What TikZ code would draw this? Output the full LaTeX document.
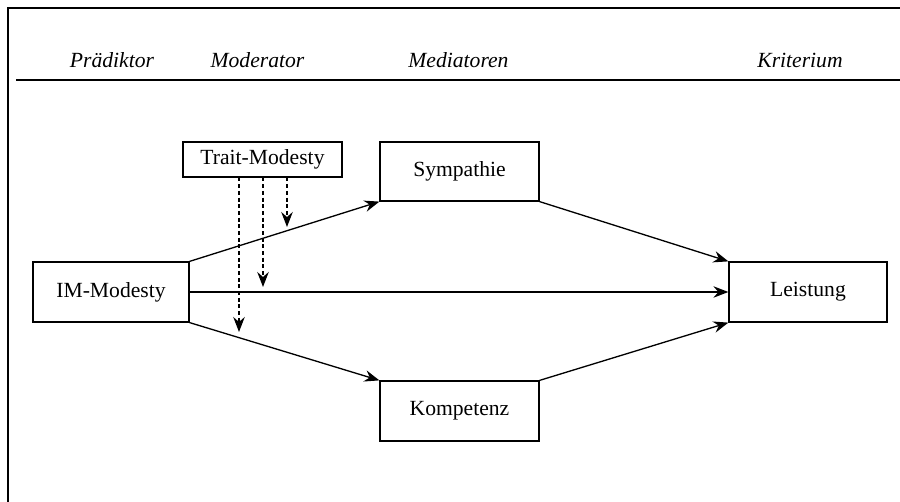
\documentclass[tikz,border=0pt]{standalone}
\usepackage{fontspec}
\setmainfont{Liberation Serif}
\usetikzlibrary{arrows.meta}
\tikzset{
  varbox/.style={draw,line width=0.7pt,minimum width=3.16cm,minimum height=1.2cm,inner sep=0pt,font=\fontsize{12.3}{14}\selectfont},
  pfeil/.style={line width=0.75pt,-{Stealth[length=3mm,width=2.3mm,inset=1mm]}},
  modpfeil/.style={pfeil,dashed,dash pattern=on 2.2pt off 1.6pt},
  kopf/.style={font=\fontsize{12.3}{14}\selectfont\itshape}
}

\begin{document}
\begin{tikzpicture}[x=1cm,y=1cm]
\path[use as bounding box] (0,0) rectangle (18.00,10.04);
% Rahmen und Kopfzeile
\draw[line width=0.9pt] (0.16,0) -- (0.16,9.88) -- (18.00,9.88);
\draw[line width=0.9pt] (0.32,8.44) -- (18.00,8.44);
\node[kopf] (hpraed) at (2.24,8.84) {Prädiktor};
\node[kopf] (hmod) at (5.15,8.84) {Moderator};
\node[kopf] (hmed) at (9.17,8.84) {Mediatoren};
\node[kopf] (hkrit) at (16.00,8.84) {Kriterium};
% Variablen
\node[varbox,minimum width=3.18cm,minimum height=0.7cm] (trait) at (5.25,6.85) {Trait-Modesty};
\node[varbox,minimum width=3.18cm,minimum height=1.18cm] (symp) at (9.19,6.61) {Sympathie};
\node[varbox,minimum width=3.12cm] (immod) at (2.22,4.20) {IM-Modesty};
\node[varbox] (leist) at (16.16,4.20) {Leistung};
\node[varbox,minimum width=3.18cm] (komp) at (9.19,1.82) {Kompetenz};
% Pfade
\draw[pfeil] (immod.north east) -- (symp.south west);
\draw[pfeil] (immod.east) -- (leist.west);
\draw[pfeil] (immod.south east) -- (komp.north west);
\draw[pfeil] (symp.south east) -- (leist.north west);
\draw[pfeil] (komp.north east) -- (leist.south west);
% Moderation
\coordinate (modoben) at (5.74,5.50);
\coordinate (modmitte) at (5.26,4.30);
\coordinate (modunten) at (4.78,3.40);
\draw[modpfeil] (trait.south -| modoben) -- (modoben);
\draw[modpfeil] (trait.south -| modmitte) -- (modmitte);
\draw[modpfeil] (trait.south -| modunten) -- (modunten);
\end{tikzpicture}
\end{document}
